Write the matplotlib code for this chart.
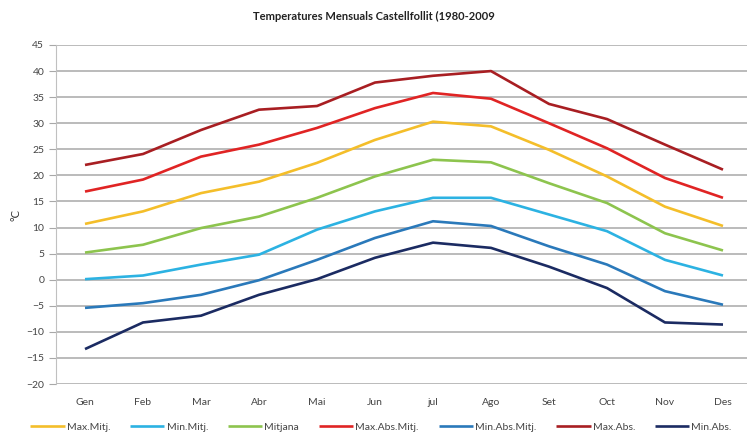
import matplotlib
matplotlib.use('Agg')
import matplotlib.pyplot as plt

plt.rcParams['font.family'] = ['Lato', 'DejaVu Sans']

months = ['Gen', 'Feb', 'Mar', 'Abr', 'Mai', 'Jun', 'jul', 'Ago', 'Set', 'Oct', 'Nov', 'Des']

max_mitj = [10.7, 13.1, 16.6, 18.8, 22.4, 26.8, 30.3, 29.4, 24.9, 19.8, 14.0, 10.3]
min_mitj = [0.1, 0.8, 2.9, 4.8, 9.6, 13.1, 15.7, 15.7, 12.5, 9.3, 3.8, 0.8]
mitjana = [5.2, 6.7, 9.9, 12.1, 15.7, 19.8, 23.0, 22.5, 18.5, 14.7, 8.9, 5.6]
max_abs_mitj = [16.9, 19.2, 23.6, 25.9, 29.1, 32.9, 35.8, 34.7, 30.0, 25.2, 19.5, 15.7]
min_abs_mitj = [-5.4, -4.5, -2.9, -0.1, 3.8, 8.0, 11.2, 10.3, 6.4, 2.9, -2.2, -4.8]
max_abs = [22.0, 24.1, 28.7, 32.6, 33.3, 37.8, 39.1, 40.0, 33.7, 30.8, 25.9, 21.1]
min_abs = [-13.3, -8.2, -6.9, -2.9, 0.1, 4.2, 7.1, 6.1, 2.5, -1.6, -8.2, -8.6]

series = [
    ('Max.Mitj.', max_mitj, '#F4BE2A'),
    ('Min.Mitj.', min_mitj, '#2CB2E2'),
    ('Mitjana', mitjana, '#8DC44E'),
    ('Max.Abs.Mitj.', max_abs_mitj, '#E02424'),
    ('Min.Abs.Mitj.', min_abs_mitj, '#2A79BA'),
    ('Max.Abs.', max_abs, '#A81E22'),
    ('Min.Abs.', min_abs, '#1B2B62'),
]

fig = plt.figure(figsize=(7.47, 4.38), dpi=100)
ax = fig.add_axes([56 / 747, 54 / 438, 696 / 747, 339 / 438])

x = range(len(months))
for name, vals, col in series:
    ax.plot(x, vals, color=col, lw=1.9, label=name, solid_capstyle='butt')

ax.set_xlim(-0.5, 11.5)
ax.set_ylim(-20, 45)
ax.set_yticks(range(-20, 46, 5))
ax.set_xticks(list(x))
ax.set_xticklabels(months)
ax.yaxis.grid(True, color='#a8a8a8', lw=1.1)
ax.set_axisbelow(True)
for s in ['top', 'right', 'bottom']:
    ax.spines[s].set_visible(False)
ax.spines['left'].set_color('#c0c0c0')
ax.tick_params(axis='y', colors='#a8a8a8', length=5, labelcolor='#444444', labelsize=7.5)
ax.tick_params(axis='x', length=0, labelcolor='#444444', labelsize=7.5, pad=10)

fig.text(16 / 747, 1 - 215 / 438, '°C', rotation=90, ha='center', va='center',
         fontsize=8, color='#333333')

fig.text(0.5, 0.963, 'Temperatures Mensuals Castellfollit (1980-2009',
         ha='center', va='center', fontsize=8, fontweight='bold', color='#222222')

fig.legend(loc='center', bbox_to_anchor=(0.51, 0.025), ncol=7, frameon=False,
           fontsize=7.5, handlelength=3.3, handletextpad=0.2, columnspacing=1.9,
           labelcolor='#444444')

fig.savefig('out.png', dpi=100)
